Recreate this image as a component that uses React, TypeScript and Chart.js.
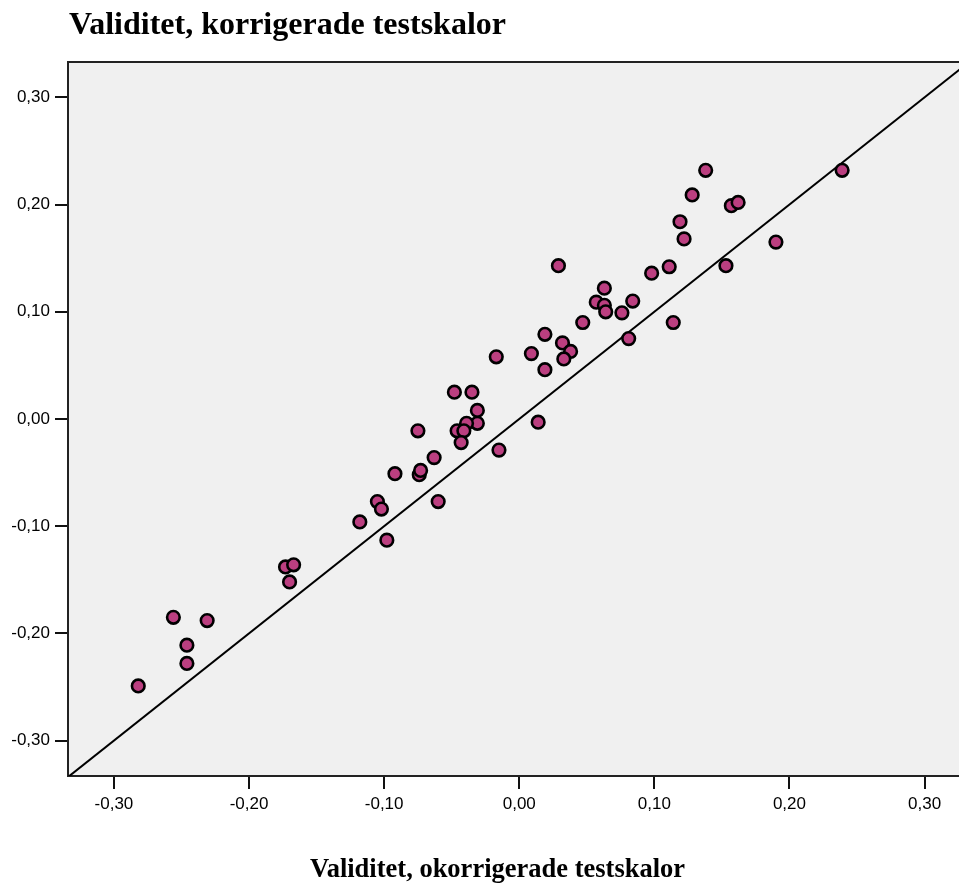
import React, { useEffect, useRef } from "react";
import { Chart, registerables } from "chart.js";

Chart.register(...registerables);

const TITLE = "Validitet, korrigerade testskalor";
const X_TITLE = "Validitet, okorrigerade testskalor";

const X_VALUES = [
  -0.282, -0.256, -0.246, -0.246, -0.231, -0.173, -0.167, -0.170,
  -0.118, -0.105, -0.102, -0.098, -0.092, -0.074, -0.073, -0.075, -0.063, -0.060, -0.048, -0.035,
  -0.031, -0.031, -0.039, -0.046, -0.041, -0.043, -0.015,
  -0.017, 0.009, 0.019, 0.019, 0.032, 0.038, 0.033, 0.029, 0.047, 0.057, 0.063, 0.063, 0.064,
  0.076, 0.084, 0.081, 0.098, 0.111, 0.114, 0.119, 0.122, 0.128, 0.014,
  0.138, 0.157, 0.162, 0.190, 0.153, 0.239,
];

const Y_VALUES = [
  -0.249, -0.185, -0.211, -0.228, -0.188, -0.138, -0.136, -0.152,
  -0.096, -0.077, -0.084, -0.113, -0.051, -0.052, -0.048, -0.011, -0.036, -0.077, 0.025, 0.025,
  0.008, -0.004, -0.004, -0.011, -0.011, -0.022, -0.029,
  0.058, 0.061, 0.079, 0.046, 0.071, 0.063, 0.056, 0.143, 0.090, 0.109, 0.122, 0.106, 0.100,
  0.099, 0.110, 0.075, 0.136, 0.142, 0.090, 0.184, 0.168, 0.209, -0.003,
  0.232, 0.199, 0.202, 0.165, 0.143, 0.232,
];

// reference line y = x
const REF_LINE = [-0.34, 0.34];

const TICK_VALUES = [-0.3, -0.2, -0.1, 0, 0.1, 0.2, 0.3];

const X_MIN = -0.334;
const X_MAX = 0.3255;
const Y_MIN = -0.333;
const Y_MAX = 0.333;

const fmt = (v: number) => (Math.abs(v) < 1e-9 ? 0 : v).toFixed(2).replace(".", ",");

const tickFont = { family: '"Liberation Sans", Arial, sans-serif', size: 17 };

export default function App() {
  const ref = useRef<HTMLCanvasElement | null>(null);

  useEffect(() => {
    if (!ref.current) return;

    const bgPlugin = {
      id: "bgPlugin",
      beforeDraw(chart: any) {
        const { ctx, chartArea } = chart;
        ctx.save();
        ctx.fillStyle = "#ffffff";
        ctx.fillRect(0, 0, chart.width, chart.height);
        ctx.fillStyle = "#f0f0f0";
        ctx.fillRect(chartArea.left, chartArea.top, chartArea.right - chartArea.left, chartArea.bottom - chartArea.top);
        ctx.restore();
      },
      afterDraw(chart: any) {
        const { ctx, chartArea } = chart;
        ctx.save();
        ctx.strokeStyle = "#222";
        ctx.lineWidth = 2;
        ctx.beginPath();
        ctx.moveTo(chartArea.left, chartArea.top);
        ctx.lineTo(chartArea.right, chartArea.top);
        ctx.stroke();
        ctx.fillStyle = "#000";
        ctx.textBaseline = "alphabetic";
        ctx.textAlign = "left";
        ctx.font = 'bold 32px "Liberation Serif", "Times New Roman", serif';
        ctx.fillText(TITLE, 69, 34);
        ctx.textAlign = "center";
        ctx.font = 'bold 26.5px "Liberation Serif", "Times New Roman", serif';
        ctx.fillText(X_TITLE, 497.5, 877);
        ctx.restore();
      },
    };

    const chart = new Chart(ref.current, {
      type: "scatter",
      data: {
        datasets: [
          {
            type: "line",
            data: REF_LINE.map((v) => ({ x: v, y: v })),
            borderColor: "#000",
            borderWidth: 2,
            pointRadius: 0,
            fill: false,
            order: 2,
          } as any,
          {
            data: X_VALUES.map((x, i) => ({ x, y: Y_VALUES[i] })),
            backgroundColor: "#bb3f80",
            borderColor: "#000",
            borderWidth: 2.6,
            pointRadius: 6.3,
            pointHoverRadius: 6.3,
            order: 1,
          },
        ],
      },
      options: {
        animation: false,
        responsive: true,
        maintainAspectRatio: false,
        events: [],
        layout: { autoPadding: false, padding: { top: 62, left: 0, right: 0, bottom: 0 } },
        plugins: {
          legend: { display: false },
          tooltip: { enabled: false },
          title: { display: false },
        },
        scales: {
          x: {
            type: "linear",
            min: X_MIN,
            max: X_MAX,
            afterBuildTicks: (scale: any) => {
              scale.ticks = TICK_VALUES.map((v) => ({ value: v }));
            },
            afterFit: (scale: any) => {
              scale.height = 110;
              scale.paddingLeft = 0;
              scale.paddingRight = 0;
            },
            grid: {
              display: true,
              drawOnChartArea: false,
              drawTicks: true,
              tickLength: 13,
              color: "#111",
              lineWidth: 2,
            },
            border: { display: true, color: "#222", width: 2 },
            ticks: {
              autoSkip: false,
              maxRotation: 0,
              padding: 5,
              color: "#000",
              font: tickFont,
              callback: (v: any) => fmt(Number(v)),
            },
          },
          y: {
            type: "linear",
            min: Y_MIN,
            max: Y_MAX,
            afterBuildTicks: (scale: any) => {
              scale.ticks = TICK_VALUES.map((v) => ({ value: v }));
            },
            afterFit: (scale: any) => {
              scale.width = 68;
              scale.paddingTop = 0;
              scale.paddingBottom = 0;
            },
            grid: {
              display: true,
              drawOnChartArea: false,
              drawTicks: true,
              tickLength: 13,
              color: "#111",
              lineWidth: 2,
            },
            border: { display: true, color: "#222", width: 2 },
            ticks: {
              autoSkip: false,
              padding: 5,
              color: "#000",
              font: tickFont,
              callback: (v: any) => fmt(Number(v)),
            },
          },
        },
      } as any,
      plugins: [bgPlugin],
    });

    return () => chart.destroy();
  }, []);

  return (
    <div style={{ position: "absolute", left: 0, top: 0, width: 959, height: 886 }}>
      <canvas ref={ref} />
    </div>
  );
}
